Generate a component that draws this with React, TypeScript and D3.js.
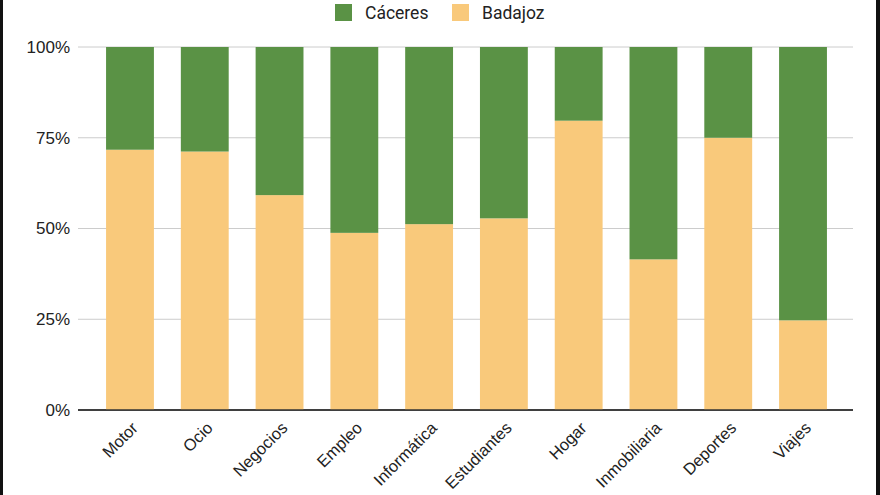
import React from "react";
import * as d3 from "d3";

const categories = ["Motor", "Ocio", "Negocios", "Empleo", "Informática", "Estudiantes", "Hogar", "Inmobiliaria", "Deportes", "Viajes"];
const badajoz = [0.717, 0.712, 0.592, 0.488, 0.512, 0.528, 0.797, 0.415, 0.75, 0.247];
const caceres = badajoz.map((v) => 1 - v);
const yTicks = [0, 0.25, 0.5, 0.75, 1];
const seriesNames = ["Cáceres", "Badajoz"];

const W = 880, H = 495;
const GREEN = "#5a9245";
const ORANGE = "#f9c97b";
const FONT = "Roboto, 'Noto Sans', Arial, sans-serif";
const AXIS_FONT = "'Liberation Sans', Arial, sans-serif";

export default function App() {
  const x = d3.scaleBand<string>().domain(categories).range([92.6, 840.4]).paddingInner(0.36).paddingOuter(0.18);
  const y = d3.scaleLinear().domain([0, 1]).range([410, 47]);
  const fmt = d3.format(".0%");
  const rows = categories.map((c, i) => ({ cat: c, Badajoz: badajoz[i], Cáceres: caceres[i] }));
  const stack = d3.stack<any>().keys(["Badajoz", "Cáceres"])(rows);
  const colors: Record<string, string> = { Badajoz: ORANGE, Cáceres: GREEN };
  const gx0 = 78, gx1 = 853;

  return (
    <svg width={W} height={H} style={{ position: "absolute", left: 0, top: 0, background: "#fff" }} fontFamily={FONT}>
      <rect x={0} y={0} width={W} height={H} fill="#fff" />
      {yTicks.map((t) => (
        <g key={t}>
          <line x1={gx0} x2={gx1} y1={y(t)} y2={y(t)} stroke={t === 0 ? "#333" : "#cccccc"} strokeWidth={t === 0 ? 1.5 : 1} />
          <text x={70} y={y(t)} dy="0.35em" textAnchor="end" fontSize={17} fontFamily={AXIS_FONT} fill="#222">{fmt(t)}</text>
        </g>
      ))}
      {stack.map((s) => (
        <g key={s.key} fill={colors[s.key]}>
          {s.map((d: any, i: number) => (
            <rect key={i} x={x(d.data.cat)} width={x.bandwidth()} y={y(d[1])} height={y(d[0]) - y(d[1])} />
          ))}
        </g>
      ))}
      <line x1={gx0} x2={gx1} y1={y(0)} y2={y(0)} stroke="#333" strokeWidth={1.5} />
      {categories.map((c) => {
        const cx = (x(c) as number) + x.bandwidth() / 2 + 9;
        return (
          <text key={c} transform={`translate(${cx},${429}) rotate(-45)`} textAnchor="end" fontSize={16.5} fontFamily={AXIS_FONT} fill="#222">{c}</text>
        );
      })}
      <g>
        <rect x={335} y={4} width={17} height={17} fill={GREEN} />
        <text x={365} y={13} dy="0.35em" fontSize={17.5} fill="#222">{seriesNames[0]}</text>
        <rect x={452} y={4} width={17} height={17} fill={ORANGE} />
        <text x={482} y={13} dy="0.35em" fontSize={17.5} fill="#222">{seriesNames[1]}</text>
      </g>
      <rect x={0} y={0} width={3} height={H} fill="#111" />
      <rect x={876} y={0} width={4} height={H} fill="#111" />
    </svg>
  );
}
